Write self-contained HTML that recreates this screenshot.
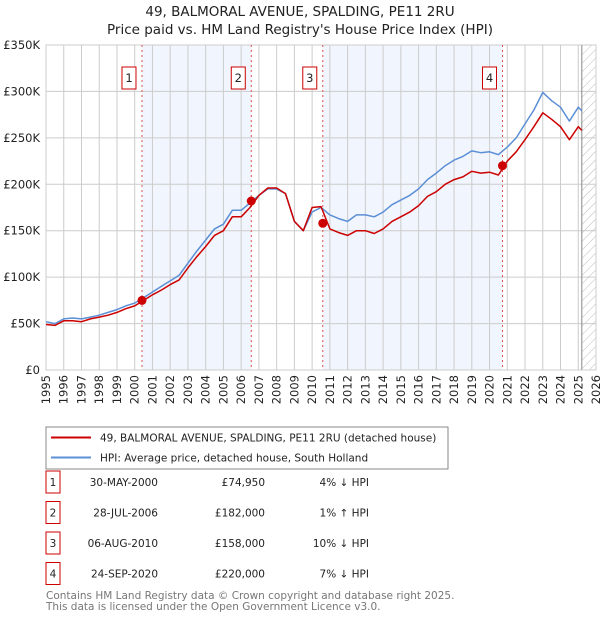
<!DOCTYPE html>
<html><head><meta charset="utf-8"><style>
body{margin:0;background:#fff;font-family:"DejaVu Sans","Liberation Sans",sans-serif;}
svg text{font-family:"DejaVu Sans","Liberation Sans",sans-serif;}
</style></head><body>
<svg id="c" width="600" height="620" viewBox="0 0 600 620" xmlns="http://www.w3.org/2000/svg">
<defs><pattern id="hatch" width="6" height="6" patternUnits="userSpaceOnUse" patternTransform="rotate(45)"><line x1="0" y1="0" x2="0" y2="6" stroke="#bbb" stroke-width="1"/></pattern></defs>
<text x="300" y="16" text-anchor="middle" font-size="13.5" fill="#222">49, BALMORAL AVENUE, SPALDING, PE11 2RU</text>
<text x="300" y="34" text-anchor="middle" font-size="13.5" fill="#222">Price paid vs. HM Land Registry's House Price Index (HPI)</text>
<g id="plot"></g>
<g>
<rect x="46" y="427" width="402" height="42" fill="#fff" stroke="#888"/>
<line x1="51" y1="437.5" x2="91" y2="437.5" stroke="#cc0000" stroke-width="2"/>
<text x="100" y="441.5" font-size="10.5" fill="#222">49, BALMORAL AVENUE, SPALDING, PE11 2RU (detached house)</text>
<line x1="51" y1="457.5" x2="91" y2="457.5" stroke="#5b8fd6" stroke-width="2"/>
<text x="100" y="461.5" font-size="10.5" fill="#222">HPI: Average price, detached house, South Holland</text>
</g>
<g id="table" font-size="10.5" fill="#222"></g>
<text x="46" y="599" font-size="10.5" fill="#777">Contains HM Land Registry data © Crown copyright and database right 2025.</text>
<text x="46" y="610" font-size="10.5" fill="#777">This data is licensed under the Open Government Licence v3.0.</text>
</svg>
<script>
const years=[1995,1995.5,1996,1996.5,1997,1997.5,1998,1998.5,1999,1999.5,2000,2000.5,2001,2001.5,2002,2002.5,2003,2003.5,2004,2004.5,2005,2005.5,2006,2006.5,2007,2007.5,2008,2008.5,2009,2009.5,2010,2010.5,2011,2011.5,2012,2012.5,2013,2013.5,2014,2014.5,2015,2015.5,2016,2016.5,2017,2017.5,2018,2018.5,2019,2019.5,2020,2020.5,2021,2021.5,2022,2022.5,2023,2023.5,2024,2024.5,2025,2025.2];
const hpi=[52,50,55,56,55,57,59,62,65,69,72,78,84,90,96,102,115,128,140,152,157,172,172,180,188,195,195,190,160,150,170,175,167,163,160,167,167,165,170,178,183,188,195,205,212,220,226,230,236,234,235,232,240,250,265,280,299,290,283,268,283,279];
const price=[49,48,53,53,52,55,57,59,62,66,69,75,81,86,92,97,110,122,133,145,150,165,165,175,188,196,196,190,160,150,175,176,152,148,145,150,150,147,152,160,165,170,177,187,192,200,205,208,214,212,213,210,225,235,248,262,277,270,262,248,262,258];
const saleLabels=["1","2","3","4"];
const saleYears=[2000.41,2006.57,2010.6,2020.73];
const saleValues=[74.95,182,158,220];
const saleDates=["30-MAY-2000","28-JUL-2006","06-AUG-2010","24-SEP-2020"];
const salePrices=["£74,950","£182,000","£158,000","£220,000"];
const saleDiffs=["4% ↓ HPI","1% ↑ HPI","10% ↓ HPI","7% ↓ HPI"];
const yTicks=[0,50,100,150,200,250,300,350];
const yTickLabels=["£0","£50K","£100K","£150K","£200K","£250K","£300K","£350K"];
const xTicks=[1995,1996,1997,1998,1999,2000,2001,2002,2003,2004,2005,2006,2007,2008,2009,2010,2011,2012,2013,2014,2015,2016,2017,2018,2019,2020,2021,2022,2023,2024,2025,2026];
const hatchStart=2025.2;

const NS="http://www.w3.org/2000/svg";
const L=46,R=596,T=45,B=370;
const X=y=>L+(y-1995)/(2026-1995)*(R-L);
const Y=v=>B-v/350*(B-T);
function mk(tag,attrs,parent){const e=document.createElementNS(NS,tag);for(const k in attrs)e.setAttribute(k,attrs[k]);parent.appendChild(e);return e;}
const g=document.getElementById('plot');
for(let i=0;i<saleYears.length;i+=2){
 const r=mk('rect',{x:X(saleYears[i]),y:T,width:X(saleYears[i+1])-X(saleYears[i]),height:B-T,fill:'#eef3fc',opacity:0.8},g);
 
 
}
xTicks.forEach((t,i)=>{
 const l=mk('line',{x1:X(t),x2:X(t),y1:T,y2:B,stroke:'#ccc','stroke-width':1},g);
 
 
 const tx=mk('text',{x:0,y:0,'font-size':11.5,fill:'#222','text-anchor':'end',transform:`translate(${X(t)+4},375) rotate(-90)`},g);
 tx.textContent=t;
 
 
});
yTicks.forEach((t,i)=>{
 const l=mk('line',{x1:L,x2:R,y1:Y(t),y2:Y(t),stroke:'#ccc','stroke-width':1},g);
 
 
 const tx=mk('text',{x:L-6,y:Y(t)+4,'font-size':11.5,fill:'#222','text-anchor':'end'},g);
 tx.textContent=yTickLabels[i];
 
 
});
const h=mk('rect',{x:X(hatchStart),y:T,width:R-X(hatchStart),height:B-T,fill:'url(#hatch)',stroke:'none'},g);


const hl=mk('line',{x1:X(hatchStart),x2:X(hatchStart),y1:T,y2:B,stroke:'#888'},g);


mk('rect',{x:L,y:T,width:R-L,height:B-T,fill:'none',stroke:'#ccc'},g);
saleYears.forEach((s,i)=>{
 const l=mk('line',{x1:X(s),x2:X(s),y1:T,y2:B,stroke:'#e05050','stroke-dasharray':'2,3','stroke-width':1},g);
 
 
 const bx=mk('rect',{x:X(s)-20,y:67,width:14,height:22,fill:'#fff',stroke:'#cc0000'},g);
 
 
 const t=mk('text',{x:X(s)-13,y:82,'font-size':11.5,'text-anchor':'middle',fill:'#222'},g);
 t.textContent=saleLabels[i];
 
 
});
function line(vals,color,name){
 const d=vals.map((v,i)=>(i?'L':'M')+X(years[i]).toFixed(1)+','+Y(v).toFixed(1)).join('');
 const p=mk('path',{d:d,fill:'none',stroke:color,'stroke-width':1.5,'stroke-linejoin':'round'},g);
 
 
}
line(hpi,'#5b8fd6','hpi-line');
line(price,'#cc0000','price-line');
saleYears.forEach((s,i)=>{
 const c=mk('circle',{cx:X(s),cy:Y(saleValues[i]),r:4.5,fill:'#cc0000'},g);
 
 
});
const tb=document.getElementById('table');
saleLabels.forEach((lab,i)=>{
 const y=483+i*30.5;
 const r=mk('rect',{x:46,y:y-12,width:14,height:22,fill:'#fff',stroke:'#cc0000'},tb);
 
 
 const cols=[[53,'middle',lab,'badge-number'],[158,'end',saleDates[i],'sale-date'],[265,'end',salePrices[i],'sale-price'],[369,'end',saleDiffs[i],'hpi-diff']];
 cols.forEach(c=>{
  const t=mk('text',{x:c[0],y:y+3,'text-anchor':c[1]},tb);
  t.textContent=c[2];
  
  
 });
});
</script>
</body></html>
